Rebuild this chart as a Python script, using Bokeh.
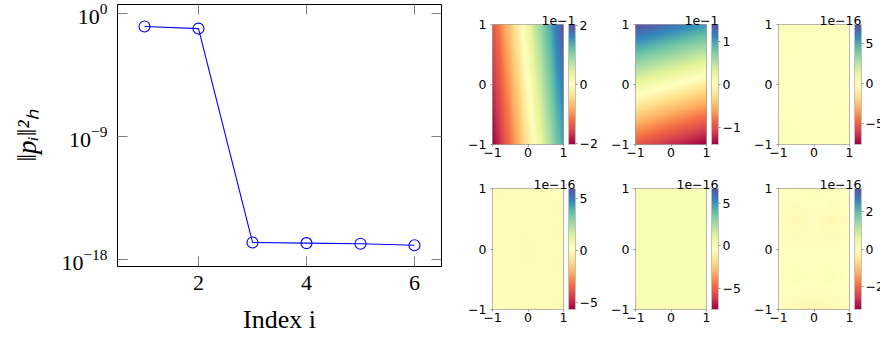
import numpy as np
from bokeh.plotting import figure
from bokeh.layouts import row, column
from bokeh.models import (Range1d, FixedTicker, LogAxis, LinearAxis, ColorBar,
                          LinearColorMapper)
from bokeh.embed import file_html
from bokeh.resources import INLINE

# ---------------- data ----------------
index = [1, 2, 3, 4, 5, 6]
norms = [1.12e-1, 7.9e-2, 1.78e-17, 1.58e-17, 1.41e-17, 1.12e-17]

# mode fields, coarse grids (rows from y=-1 to y=1, columns from x=-1 to x=1), in units of 10^exp
mode1 = [[-2.05, 1.45], [-1.45, 2.05]]
mode2 = [[-0.95, -1.40], [1.40, 1.05]]
mode3 = [[0.15, 0.05, 0.1], [0.0, -0.05, 0.0], [0.1, 0.0, -0.2]]
mode4 = [[0.1, 0.0, -0.05], [0.0, -0.05, 0.0], [-0.05, 0.0, 0.1]]
mode5 = [[0.1, 0.05, 0.0], [0.05, 0.0, 0.05], [0.0, 0.05, 0.0]]
mode6 = [[0.0, -0.15, -0.2, -0.15, 0.0],
         [0.0, 0.15, 0.05, 0.15, 0.0],
         [0.0, 0.0, 0.0, 0.0, 0.0],
         [0.0, -0.15, 0.0, -0.15, 0.0],
         [0.0, 0.05, 0.15, 0.05, 0.0]]
modes = [mode1, mode2, mode3, mode4, mode5, mode6]
cbar_low = [-2.05, -1.40, -7.6, -5.7, -7.4, -3.2]
cbar_high = [2.05, 1.40, 7.3, 6.0, 6.7, 3.2]
cbar_ticks = [[-2, 0, 2], [-1, 0, 1], [-5, 0, 5], [-5, 0, 5], [-5, 0, 5], [-2, 0, 2]]
offset_texts = ["1e\u22121", "1e\u22121", "1e\u221216", "1e\u221216", "1e\u221216", "1e\u221216"]
axis_ticks = [-1, 0, 1]

x_ticks = [2, 4, 6]
y_ticks = [1e0, 1e-9, 1e-18]

# ---------------- palette (Spectral, low=red -> high=blue) ----------------
spectral = ['#9e0142', '#d53e4f', '#f46d43', '#fdae61', '#fee08b', '#ffffbf',
            '#e6f598', '#abdda4', '#66c2a5', '#3288bd', '#5e4fa2']
rgb = np.array([[int(c[i:i + 2], 16) for i in (1, 3, 5)] for c in spectral], float)
t = np.linspace(0, 1, 256)
src = np.linspace(0, 1, len(spectral))
pal = ["#%02x%02x%02x" % tuple(int(round(np.interp(tt, src, rgb[:, k]))) for k in range(3)) for tt in t]


def upsample(grid, ny=96, nx=64):
    g = np.array(grid, float)
    gy, gx = g.shape
    xs = np.linspace(0, gx - 1, nx)
    ys = np.linspace(0, gy - 1, ny)
    tmp = np.array([np.interp(xs, np.arange(gx), r) for r in g])
    return np.array([np.interp(ys, np.arange(gy), tmp[:, j]) for j in range(nx)]).T


SERIF = "Liberation Serif"
SANS = "DejaVu Sans"

# ---------------- left plot ----------------
p = figure(width=462, height=340, x_range=Range1d(0.5, 6.5),
           y_range=Range1d(10 ** -18.51, 10 ** 0.66), y_axis_type="log",
           output_backend="svg", toolbar_location=None,
           min_border_left=117, min_border_right=21, min_border_top=4, min_border_bottom=74)
p.grid.visible = False
p.outline_line_color = "black"
p.outline_line_width = 1
p.background_fill_color = "white"

p.line(index, norms, line_color="#0000ff", line_width=1.1)
p.scatter(index, norms, marker="circle", size=11, fill_color=None,
          line_color="#0000ff", line_width=1.1)

xa = p.xaxis[0]
xa.ticker = FixedTicker(ticks=x_ticks)
xa.axis_label = "Index i"
ya = p.yaxis[0]
ya.ticker = FixedTicker(ticks=y_ticks)
ya.axis_label = "\u2016p\u1d62\u2016\u00b2\u2095"

for ax in (xa, ya):
    ax.axis_line_color = None
    ax.major_tick_in = 10
    ax.major_tick_out = 0
    ax.major_tick_line_color = "#808080"
    ax.minor_tick_line_color = None
    ax.major_label_text_font = SERIF
    ax.major_label_text_font_size = "22px"
    ax.major_label_text_color = "black"
    ax.axis_label_text_font = SERIF
    ax.axis_label_text_color = "black"
xa.major_label_standoff = 9
xa.axis_label_text_font_size = "26px"
xa.axis_label_text_font_style = "normal"
xa.axis_label_standoff = 12
ya.major_label_standoff = 10
ya.axis_label_text_font_size = "27px"
ya.axis_label_text_font_style = "italic"
ya.axis_label_standoff = 16

ra = LogAxis(ticker=FixedTicker(ticks=y_ticks),
             major_label_overrides={v: "" for v in y_ticks})
ta = LinearAxis(ticker=FixedTicker(ticks=x_ticks),
                major_label_overrides={v: "" for v in x_ticks})
for ax in (ra, ta):
    ax.axis_line_color = None
    ax.major_tick_in = 10
    ax.major_tick_out = 0
    ax.major_tick_line_color = "#808080"
    ax.minor_tick_line_color = None
    ax.major_label_text_font_size = "2px"
    ax.major_label_text_color = None
    ax.major_label_standoff = 0
p.add_layout(ra, "right")
p.add_layout(ta, "above")

# ---------------- heatmaps ----------------
mirror = {-1: "\u22121", 0: "0", 1: "1"}


def heat(i, width, mb_right, height, mb_top, frame_h):
    f = figure(width=width, height=height, x_range=Range1d(-1, 1), y_range=Range1d(-1, 1),
               output_backend="svg", toolbar_location=None,
               min_border_left=30, min_border_right=mb_right, min_border_top=mb_top,
               min_border_bottom=height - mb_top - frame_h)
    f.grid.visible = False
    f.outline_line_color = "#a0a0a0"
    f.outline_line_width = 1
    # offset text (scale factor) drawn as the figure title, right-aligned over the colorbar
    f.title.text = offset_texts[i]
    f.title.align = "right"
    f.title.offset = -12
    f.title.standoff = 0
    f.title.text_font = SANS
    f.title.text_font_size = "12.5px"
    f.title.text_font_style = "normal"
    f.title.text_color = "black"
    mapper = LinearColorMapper(palette=pal, low=cbar_low[i], high=cbar_high[i])
    f.image(image=[upsample(modes[i])], x=-1, y=-1, dw=2, dh=2, color_mapper=mapper)
    for ax in (f.xaxis[0], f.yaxis[0]):
        ax.ticker = FixedTicker(ticks=axis_ticks)
        ax.major_label_overrides = dict(mirror)
        ax.axis_line_color = None
        ax.major_tick_in = 0
        ax.major_tick_out = 2
        ax.major_tick_line_color = "#909090"
        ax.minor_tick_line_color = None
        ax.major_label_text_font = SANS
        ax.major_label_text_font_size = "12.5px"
        ax.major_label_text_color = "black"
    f.xaxis[0].major_label_standoff = 1
    f.yaxis[0].major_label_standoff = 4
    cb_labels = {v: (("\u2212" + str(-v)) if v < 0 else str(v)) for v in cbar_ticks[i]}
    cb = ColorBar(color_mapper=mapper, orientation="vertical", location=(76, 0),
                  width=7, height=frame_h, margin=0, padding=0,
                  ticker=FixedTicker(ticks=cbar_ticks[i]),
                  major_label_overrides=cb_labels,
                  border_line_color=None,
                  bar_line_color="#c0c0c0", bar_line_width=1,
                  major_tick_in=0, major_tick_out=2, major_tick_line_color="#909090",
                  minor_tick_line_color=None, label_standoff=2,
                  major_label_text_font=SANS, major_label_text_font_size="12.5px",
                  major_label_text_color="black")
    f.add_layout(cb, "center")
    return f


widths = [143, 143, 132]
mb_rights = [42, 42, 31]
top_row = [heat(k, widths[k], mb_rights[k], 172, 24, 120) for k in range(3)]
bottom_row = [heat(3 + k, widths[k], mb_rights[k], 168, 16, 121) for k in range(3)]

layout = row(p, column(row(*top_row), row(*bottom_row)))

open("out.html", "w").write(file_html(layout, INLINE))
